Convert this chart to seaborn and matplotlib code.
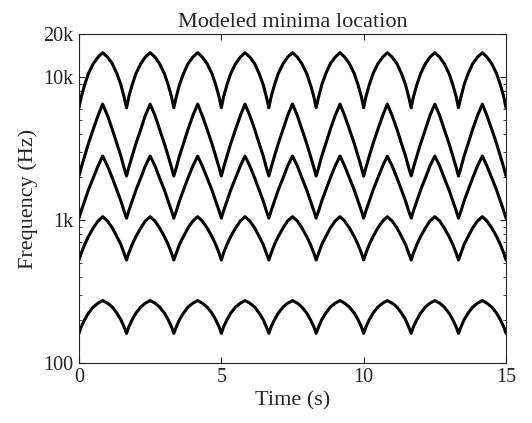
import numpy as np
import pandas as pd
import matplotlib
matplotlib.use("Agg")
import matplotlib.pyplot as plt
import matplotlib.ticker as mticker
import seaborn as sns

# time axis (s): cusps every 5/3 s
time_s = [0, 0.08, 0.2, 0.33, 0.5, 0.67, 0.83, 1.0, 1.17, 1.33, 1.47, 1.58,
          1.67, 1.75, 1.87, 2.0, 2.17, 2.33, 2.5, 2.67, 2.83, 3.0, 3.13, 3.25,
          3.33, 3.42, 3.53, 3.67, 3.83, 4.0, 4.17, 4.33, 4.5, 4.67, 4.8, 4.92,
          5.0, 5.08, 5.2, 5.33, 5.5, 5.67, 5.83, 6.0, 6.17, 6.33, 6.47, 6.58,
          6.67, 6.75, 6.87, 7.0, 7.17, 7.33, 7.5, 7.67, 7.83, 8.0, 8.13, 8.25,
          8.33, 8.42, 8.53, 8.67, 8.83, 9.0, 9.17, 9.33, 9.5, 9.67, 9.8, 9.92,
          10.0, 10.08, 10.2, 10.33, 10.5, 10.67, 10.83, 11.0, 11.17, 11.33, 11.47, 11.58,
          11.67, 11.75, 11.87, 12.0, 12.17, 12.33, 12.5, 12.67, 12.83, 13.0, 13.13, 13.25,
          13.33, 13.42, 13.53, 13.67, 13.83, 14.0, 14.17, 14.33, 14.5, 14.67, 14.8, 14.92,
          15.0]

# minima frequencies (Hz), top curve first
minimum_1 = [6100, 7290, 8850, 10570, 12400, 13790, 14800, 13790, 12400, 10570, 8850, 7290,
             6100, 7290, 8850, 10570, 12400, 13790, 14800, 13790, 12400, 10570, 8850, 7290,
             6100, 7290, 8850, 10570, 12400, 13790, 14800, 13790, 12400, 10570, 8850, 7290,
             6100, 7290, 8850, 10570, 12400, 13790, 14800, 13790, 12400, 10570, 8850, 7290,
             6100, 7290, 8850, 10570, 12400, 13790, 14800, 13790, 12400, 10570, 8850, 7290,
             6100, 7290, 8850, 10570, 12400, 13790, 14800, 13790, 12400, 10570, 8850, 7290,
             6100, 7290, 8850, 10570, 12400, 13790, 14800, 13790, 12400, 10570, 8850, 7290,
             6100, 7290, 8850, 10570, 12400, 13790, 14800, 13790, 12400, 10570, 8850, 7290,
             6100, 7290, 8850, 10570, 12400, 13790, 14800, 13790, 12400, 10570, 8850, 7290,
             6100]
minimum_2 = [2030, 2330, 2810, 3420, 4310, 5380, 6470, 5380, 4310, 3420, 2810, 2330,
             2030, 2330, 2810, 3420, 4310, 5380, 6470, 5380, 4310, 3420, 2810, 2330,
             2030, 2330, 2810, 3420, 4310, 5380, 6470, 5380, 4310, 3420, 2810, 2330,
             2030, 2330, 2810, 3420, 4310, 5380, 6470, 5380, 4310, 3420, 2810, 2330,
             2030, 2330, 2810, 3420, 4310, 5380, 6470, 5380, 4310, 3420, 2810, 2330,
             2030, 2330, 2810, 3420, 4310, 5380, 6470, 5380, 4310, 3420, 2810, 2330,
             2030, 2330, 2810, 3420, 4310, 5380, 6470, 5380, 4310, 3420, 2810, 2330,
             2030, 2330, 2810, 3420, 4310, 5380, 6470, 5380, 4310, 3420, 2810, 2330,
             2030, 2330, 2810, 3420, 4310, 5380, 6470, 5380, 4310, 3420, 2810, 2330,
             2030]
minimum_3 = [1030, 1160, 1360, 1620, 1970, 2390, 2800, 2390, 1970, 1620, 1360, 1160,
             1030, 1160, 1360, 1620, 1970, 2390, 2800, 2390, 1970, 1620, 1360, 1160,
             1030, 1160, 1360, 1620, 1970, 2390, 2800, 2390, 1970, 1620, 1360, 1160,
             1030, 1160, 1360, 1620, 1970, 2390, 2800, 2390, 1970, 1620, 1360, 1160,
             1030, 1160, 1360, 1620, 1970, 2390, 2800, 2390, 1970, 1620, 1360, 1160,
             1030, 1160, 1360, 1620, 1970, 2390, 2800, 2390, 1970, 1620, 1360, 1160,
             1030, 1160, 1360, 1620, 1970, 2390, 2800, 2390, 1970, 1620, 1360, 1160,
             1030, 1160, 1360, 1620, 1970, 2390, 2800, 2390, 1970, 1620, 1360, 1160,
             1030, 1160, 1360, 1620, 1970, 2390, 2800, 2390, 1970, 1620, 1360, 1160,
             1030]
minimum_4 = [525, 587, 675, 766, 880, 984, 1055, 984, 880, 766, 675, 587,
             525, 587, 675, 766, 880, 984, 1055, 984, 880, 766, 675, 587,
             525, 587, 675, 766, 880, 984, 1055, 984, 880, 766, 675, 587,
             525, 587, 675, 766, 880, 984, 1055, 984, 880, 766, 675, 587,
             525, 587, 675, 766, 880, 984, 1055, 984, 880, 766, 675, 587,
             525, 587, 675, 766, 880, 984, 1055, 984, 880, 766, 675, 587,
             525, 587, 675, 766, 880, 984, 1055, 984, 880, 766, 675, 587,
             525, 587, 675, 766, 880, 984, 1055, 984, 880, 766, 675, 587,
             525, 587, 675, 766, 880, 984, 1055, 984, 880, 766, 675, 587,
             525]
minimum_5 = [161, 179, 201, 223, 246, 262, 273, 262, 246, 223, 201, 179,
             161, 179, 201, 223, 246, 262, 273, 262, 246, 223, 201, 179,
             161, 179, 201, 223, 246, 262, 273, 262, 246, 223, 201, 179,
             161, 179, 201, 223, 246, 262, 273, 262, 246, 223, 201, 179,
             161, 179, 201, 223, 246, 262, 273, 262, 246, 223, 201, 179,
             161, 179, 201, 223, 246, 262, 273, 262, 246, 223, 201, 179,
             161, 179, 201, 223, 246, 262, 273, 262, 246, 223, 201, 179,
             161, 179, 201, 223, 246, 262, 273, 262, 246, 223, 201, 179,
             161, 179, 201, 223, 246, 262, 273, 262, 246, 223, 201, 179,
             161]

y_ticks = [100, 1000, 10000, 20000]
y_tick_labels = ["100", "1k", "10k", "20k"]
x_ticks = [0, 5, 10, 15]

curves = [minimum_1, minimum_2, minimum_3, minimum_4, minimum_5]
df = pd.concat([pd.DataFrame({"time": time_s, "freq": c, "curve": i})
                for i, c in enumerate(curves)], ignore_index=True)

sns.set_style("ticks")
plt.rcParams["font.family"] = ["Liberation Serif", "DejaVu Serif"]

fig = plt.figure(figsize=(5.32, 4.23), dpi=100)
ax = fig.add_axes([0.1485, 0.142, 0.8026, 0.7776])

sns.lineplot(data=df, x="time", y="freq", units="curve", estimator=None,
             color="black", linewidth=2.2, ax=ax, legend=False)

ax.set_yscale("log")
ax.set_xlim(0, 15)
ax.set_ylim(100, 20000)
ax.set_xticks(x_ticks)
ax.set_xticklabels([str(v) for v in x_ticks])
ax.yaxis.set_major_locator(mticker.FixedLocator(y_ticks))
ax.yaxis.set_major_formatter(mticker.FixedFormatter(y_tick_labels))
ax.yaxis.set_minor_locator(mticker.LogLocator(base=10, subs=np.arange(2, 10)))
ax.yaxis.set_minor_formatter(mticker.NullFormatter())

for s in ax.spines.values():
    s.set_visible(True)
    s.set_color("#262626")
    s.set_linewidth(0.8)
ax.tick_params(which="both", direction="in", top=True, right=True,
               color="#262626", labelsize=14.5, pad=4)
ax.tick_params(which="major", length=4)
ax.tick_params(which="minor", length=2.5)

ax.set_title("Modeled minima location", fontsize=16, pad=5)
ax.set_xlabel("Time (s)", fontsize=16, labelpad=3)
ax.set_ylabel("Frequency (Hz)", fontsize=16, labelpad=4)

fig.savefig("out.png", dpi=100)
